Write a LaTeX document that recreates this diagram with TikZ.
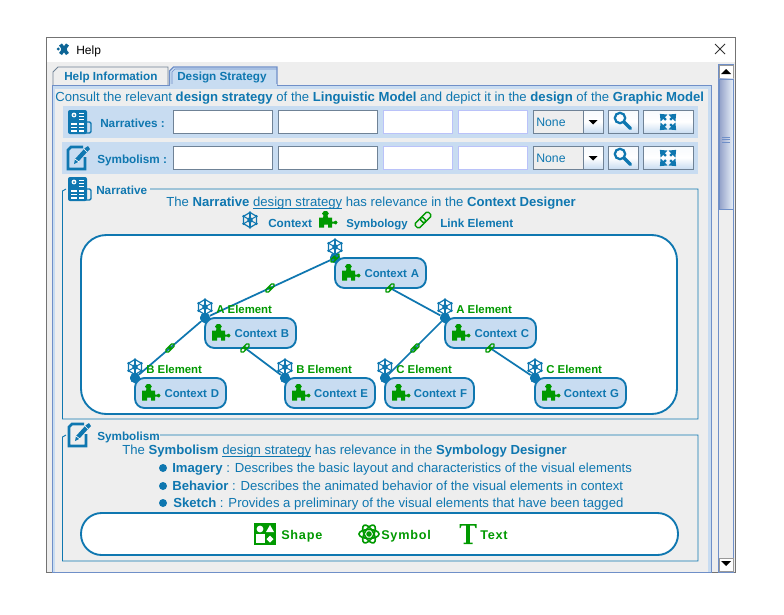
\documentclass[tikz,border=0pt]{standalone}
\usepackage{fontspec}
\setmainfont{Liberation Sans}
\usepackage{xcolor}
\usetikzlibrary{arrows.meta, positioning, shapes.geometric}
\definecolor{uiblue}{HTML}{0F77B0}
\definecolor{uigreen}{HTML}{009900}
\definecolor{uifill}{HTML}{C8DCF1}
\definecolor{uigray}{HTML}{EEEEEE}
\definecolor{uiedge}{HTML}{6F8FC8}
\definecolor{btnedge}{HTML}{6F8296}
\begin{document}
\begin{tikzpicture}[
  x=0.75pt, y=-0.75pt,
  font=\fontsize{9.85}{11}\selectfont,
  txt/.style   = {anchor=base west, inner sep=0pt, text=uiblue},
  lbl/.style   = {txt, font=\fontsize{8.8}{11}\selectfont\bfseries},
  etxt/.style  = {anchor=base west, inner sep=0pt, text=uigreen, font=\fontsize{8.55}{11}\selectfont\bfseries},
  stxt/.style  = {etxt, font=\fontsize{9.5}{11}\selectfont\bfseries\addfontfeature{LetterSpace=6}},
  field/.style = {draw=btnedge, fill=white, line width=0.6pt, minimum height=17.5pt, inner sep=0pt, outer sep=0pt, anchor=north west},
  lfield/.style= {draw=uifill!70!blue!60, fill=white, line width=0.6pt, minimum height=17.5pt, inner sep=0pt, outer sep=0pt, minimum width=51.75pt},
  btn/.style   = {draw=btnedge, line width=0.7pt, top color=white!85!uifill, bottom color=uifill, middle color=white,
                  minimum height=17.5pt, inner sep=0pt, outer sep=0pt},
  band/.style  = {fill=uifill, minimum height=24pt, inner sep=0pt, outer sep=0pt, anchor=north west},
  ctx/.style   = {draw=uiblue, line width=1.4pt, fill=uifill, rounded corners=7pt, anchor=north west,
                  minimum height=22.5pt, text width=57.75pt, align=right, inner xsep=5.25pt, inner ysep=0pt, outer sep=0pt,
                  text height=7pt, text depth=0pt, text=uiblue, font=\fontsize{8.55}{11}\selectfont\bfseries},
  dot/.style   = {circle, fill=uiblue, inner sep=0pt, minimum size=7.5pt, on grid},
  edge/.style  = {draw=uiblue, line width=1.3pt},
  round/.style = {draw=uiblue, line width=1.4pt, fill=white},
  frame/.style = {draw=uiblue, line width=0.7pt},
  hexicon/.pic = {
    \draw[uiblue, line width=0.9pt] (90:7.5) -- (30:7.5) -- (-30:7.5) -- (-90:7.5) -- (-150:7.5) -- (150:7.5) -- cycle;
    \foreach \a in {30,90,...,330} {
      \draw[uiblue, line width=0.8pt] (0,0) -- (\a:7.5);
      \fill[uiblue] (\a:7.5) circle (1.3);
    }
    \fill[uiblue] (0,0) circle (2.8);
  },
  puzzle/.pic = {
    \fill[uigreen] (-9,-2) -- (-5,-2) -- (-4.5,-4) -- (-6,-6) -- (-4,-8.5) -- (-1,-8.5) -- (0.8,-6) -- (-0.5,-4) -- (0,-2) --
      (4,-2) -- (4,2) -- (6,2) -- (8,1) -- (9.5,3) -- (8,5) -- (6,4) -- (4,4) -- (4,8) -- (0,8) -- (0,5) -- (-4,5) -- (-4,8) -- (-9,8) -- cycle;
  },
  linkicon/.pic = {
    \begin{scope}[rotate=45]
      \draw[uigreen, line width=1pt, rounded corners=1.2pt] (-5.5,-1.8) rectangle (1,1.8);
      \draw[uigreen, line width=1pt, rounded corners=1.2pt] (-1,-1.8) rectangle (5.5,1.8);
    \end{scope}
  },
  docicon/.pic = {
    \draw[uiblue, line width=1pt, rounded corners=1pt] (5,0) -- (11,0) -- (11,11) -- (5,11);
    \fill[uiblue, rounded corners=1.5pt] (-12,-12) rectangle (7,12);
    \fill[white] (-6,-7) circle (2.4);
    \fill[uiblue] (-6,-7) circle (1);
    \foreach \yy in {-9,-6,-3} { \draw[white, line width=0.7pt] (-1,\yy) -- (4,\yy); }
    \foreach \yy in {2,5.5,9} { \draw[white, line width=0.9pt] (-9,\yy) -- (-3,\yy); \draw[white, line width=0.9pt] (-1,\yy) -- (4,\yy); }
  },
  penicon/.pic = {
    \draw[uiblue, line width=2.1pt] (5,-11) -- (-7,-11) -- (-10,-8) -- (-10,11) -- (7,11) -- (7,-1);
    \fill[uiblue] (-4,6) -- (-3,1) -- (7,-10) -- (10,-12) -- (12,-9) -- (10,-7) -- (0,4) -- cycle;
    \draw[white, line width=0.5pt] (-3,1) -- (1,4);
    \draw[white, line width=0.5pt] (6,-9) -- (9,-6);
  },
  lensicon/.pic = {
    \draw[uiblue, line width=1.7pt] (-3,-4) circle (5.2);
    \draw[uiblue, line width=2.6pt, line cap=round] (1,0) -- (7.5,6.5);
  },
  growicon/.pic = {
    \foreach \a in {45,135,225,315} {
      \begin{scope}[rotate=\a]
        \fill[uiblue] (11.5,0) -- (5.5,-5) -- (5.5,5) -- cycle;
        \draw[uiblue, line width=1.8pt] (3,0) -- (7,0);
      \end{scope}
    }
  },
  shapeicon/.pic = {
    \fill[white] (-10.5,-11) rectangle (10.5,11);
    \draw[uigreen, line width=1pt] (-10,-10) rectangle (10,10);
    \fill[uigreen] (-10,-10) rectangle (0,0);
    \fill[uigreen] (0,-10) rectangle (10,0);
    \fill[uigreen] (0,0) rectangle (10,10);
    \fill[white] (-5,-5) circle (3.4);
    \fill[white] (5,-9) -- (9,-2) -- (1,-2) -- cycle;
    \fill[white] (5,1.5) -- (8.5,5) -- (5,8.5) -- (1.5,5) -- cycle;
  },
  atomicon/.pic = {
    \foreach \a in {0,60,120} {
      \draw[uigreen, line width=1.2pt, rotate=\a] (0,0) ellipse (10 and 4.5);
    }
    \fill[uigreen] (0,0) circle (2.8);
  },
  texticon/.pic = {
    \fill[uigreen] (-8.5,-10) -- (8.5,-10) -- (8.5,-6) -- (7.5,-6) -- (6.5,-8.5) -- (1.8,-8.5) -- (1.8,8.5) -- (4.5,8.5) -- (4.5,10)
      -- (-4.5,10) -- (-4.5,8.5) -- (-1.8,8.5) -- (-1.8,-8.5) -- (-6.5,-8.5) -- (-7.5,-6) -- (-8.5,-6) -- cycle;
  },
  appicon/.pic = {
    \draw[uiblue!85!black, line width=2.7pt] (-3.5,-4.5) -- (3.5,5) (3.5,-4.5) -- (-3.5,5);
    \fill[uiblue!85!black] (0,0) circle (3.2);
    \fill[uiblue!85!black] (-5.8,0) circle (1.6);
  }
]
\useasboundingbox (0,0) rectangle (784,614);
\fill[white] (0,0) rectangle (784,614);

% window
\draw[fill=uigray, draw=black!55, line width=0.7pt] (46.5,37.5) rectangle (735.5,572.5);
\fill[white] (47,38) rectangle (735,62);
\pic at (64,49) {appicon};
\node[anchor=base west, inner sep=0pt, text=black, font=\fontsize{9}{11}\selectfont] (title) at (76,54) {Help};
\draw[black!80, line width=0.7pt] (715,44) -- (725,54) (725,44) -- (715,54);

% scroll bar
\draw[uiedge, line width=0.6pt] (718,64) rectangle (733,572);
\node[draw=black!40, fill=white, inner sep=0pt, minimum width=11pt, minimum height=10pt, anchor=north west] (up) at (718.5,64.5) {};
\fill[black] (721,74) -- ++(5,-5) -- ++(5,5) -- cycle;
\node[draw=uiedge, left color=uifill!80!black!90!blue, right color=uifill!40, inner sep=0pt, minimum width=11pt, minimum height=98pt, anchor=north west] (thumb) at (718.5,78.5) {};
\draw[uiedge, line width=0.5pt] (722,137) -- (730,137) (722,139.5) -- (730,139.5) (722,142) -- (730,142);
\node[draw=black!40, fill=white, inner sep=0pt, minimum width=11pt, minimum height=10pt, anchor=north west] (down) at (718.5,557.5) {};
\fill[black] (721,561) -- (731,561) -- (726,566) -- cycle;

% tabs
\draw[draw=btnedge, fill=uigray, line width=0.6pt] (53,85) -- (53,72) -- (58,67) -- (168,67) -- (168,85);
\draw[draw=uiedge, fill=uifill, line width=1pt] (169.5,85) -- (169.5,71) -- (173.5,67) -- (277,67) -- (277,85);
\draw[draw=uiedge, line width=0.5pt] (172,85) -- (172,72) -- (175,69) -- (277,69);
\draw[uiedge, line width=0.7pt, fill=uifill] (52,85) rectangle (711,572);
\fill[uifill] (170,84) rectangle (276.5,86);
\fill[uigray] (55,89) rectangle (708,571.5);
\node[lbl] (tabhelp) at (64,80) {Help Information};
\node[lbl] (tabdesign) at (177,80) {Design Strategy};
\node[txt] (intro) at (55,101) {Consult the relevant \textbf{design strategy} of the \textbf{Linguistic Model} and depict it in the \textbf{design} of the \textbf{Graphic Model}};

% narratives row
\node[band, minimum width=476.25pt] (nband) at (63,106) {};
\pic at (80,122) {docicon};
\node[lbl] (nlabel) at (100,127) {Narratives :};
\node[field, minimum width=74.25pt] (nf1) at (173,110) {};
\node[field, minimum width=74.25pt, right=4.5pt of nf1] (nf2) {};
\node[lfield, right=4.5pt of nf2] (nf3) {};
\node[lfield, right=4.5pt of nf3] (nf4) {};
\node[field, draw=btnedge, fill=uigray, minimum width=37.5pt, right=4.5pt of nf4] (ncombo) {};
\node[txt, font=\fontsize{9.2}{11}\selectfont] (nnone) at (536,126) {None};
\node[btn, minimum width=15pt, right=0pt of ncombo] (narrow) {};
\fill[black] (588.5,120) -- (597.5,120) -- (593,124.5) -- cycle;
\node[btn, minimum width=22.5pt, right=3.75pt of narrow] (nlens) {};
\pic at (623,122) {lensicon};
\node[btn, minimum width=37.5pt, right=3.75pt of nlens] (ngrow) {};
\pic at (668,122) {growicon};

% symbolism row
\node[band, minimum width=477pt] (sband) at (62,142) {};
\pic at (78,158) {penicon};
\node[lbl] (slabel) at (97,163) {Symbolism :};
\node[field, minimum width=74.25pt] (sf1) at (173,146) {};
\node[field, minimum width=74.25pt, right=4.5pt of sf1] (sf2) {};
\node[lfield, right=4.5pt of sf2] (sf3) {};
\node[lfield, right=4.5pt of sf3] (sf4) {};
\node[field, draw=btnedge, fill=uigray, minimum width=37.5pt, right=4.5pt of sf4] (scombo) {};
\node[txt, font=\fontsize{9.2}{11}\selectfont] (snone) at (536,162) {None};
\node[btn, minimum width=15pt, right=0pt of scombo] (sarrow) {};
\fill[black] (588.5,156) -- (597.5,156) -- (593,160.5) -- cycle;
\node[btn, minimum width=22.5pt, right=3.75pt of sarrow] (slens) {};
\pic at (623,158) {lensicon};
\node[btn, minimum width=37.5pt, right=3.75pt of slens] (sgrow) {};
\pic at (668,158) {growicon};

% narrative group
\draw[frame] (66,189) -- (62.5,191) -- (62.5,419) -- (698,419) -- (698,189) -- (150,189);
\pic at (80,189) {docicon};
\node[lbl] (ntitle) at (96,194) {Narrative};
\node[txt] (nline) at (166,206) {The \textbf{Narrative} \underline{\smash{design strategy}} has relevance in the \textbf{Context Designer}};
\pic at (250,220) {hexicon};
\node[lbl] (lgctx) at (268,227) {Context};
\pic at (328,219.5) {puzzle};
\node[lbl, font=\fontsize{8.55}{11}\selectfont\bfseries] (lgsym) at (346,227) {Symbology};
\pic[scale=1.7] at (423,220) {linkicon};
\node[lbl] (lglink) at (440,227) {Link Element};
\draw[round, rounded corners=19pt] (81,235) rectangle (677,414);

% tree
\node[dot] (da) at (335,258) {};
\node[dot, below left=45pt and 97.5pt of da] (db) {};
\node[dot, below right=45pt and 82.5pt of da] (dc) {};
\node[dot, below left=45pt and 52.5pt of db] (dd) {};
\node[dot, below right=45pt and 60pt of db] (de) {};
\node[dot, below left=45pt and 45pt of dc] (df) {};
\node[dot, below right=45pt and 67.5pt of dc] (dg) {};
\node[ctx] (ctxa) at (da) {Context A};
\node[ctx] (ctxb) at (db) {Context B};
\node[ctx] (ctxc) at (dc) {Context C};
\node[ctx] (ctxd) at (dd) {Context D};
\node[ctx, text width=57pt] (ctxe) at (de) {Context E};
\node[ctx, text width=56.25pt] (ctxf) at (df) {Context F};
\node[ctx] (ctxg) at (dg) {Context G};
\node[dot] at (da) {};
\node[dot] at (db) {};
\node[dot] at (dc) {};
\node[dot] at (dd) {};
\node[dot] at (de) {};
\node[dot] at (df) {};
\node[dot] at (dg) {};
\coordinate (lka) at (390,288);
\coordinate (lkb) at (245,348);
\coordinate (lkc) at (490,348);

\draw[edge] (da) -- pic {linkicon} (db);
\draw[edge] (db) -- pic {linkicon} (dd);
\draw[edge] (dc) -- pic {linkicon} (df);
\draw[edge] (lka) -- (dc);
\draw[edge] (lkb) -- (de);
\draw[edge] (lkc) -- (dg);
\pic at (da) {linkicon};
\pic at (lka) {linkicon};
\pic at (lkb) {linkicon};
\pic at (lkc) {linkicon};

\pic at (335,247) {hexicon};
\pic at (205,307) {hexicon};
\pic at (445,307) {hexicon};
\pic at (135,367) {hexicon};
\pic at (285,367) {hexicon};
\pic at (385,367) {hexicon};
\pic at (535,367) {hexicon};
\pic at (351,272.5) {puzzle};
\pic at (221,332.5) {puzzle};
\pic at (461,332.5) {puzzle};
\pic at (151,392.5) {puzzle};
\pic at (301,392.5) {puzzle};
\pic at (401,392.5) {puzzle};
\pic at (551,392.5) {puzzle};
\node[etxt] (elb) at (216,313) {A Element};
\node[etxt] (elc) at (456,313) {A Element};
\node[etxt] (eld) at (146,373) {B Element};
\node[etxt] (ele) at (296,373) {B Element};
\node[etxt] (elf) at (396,373) {C Element};
\node[etxt] (elg) at (546,373) {C Element};

% symbolism group
\draw[frame] (66,435) -- (62.5,437) -- (62.5,561) -- (698,561) -- (698,435) -- (160,435);
\pic at (79,435) {penicon};
\node[lbl] (stitle) at (97,440) {Symbolism};
\node[txt] (sline) at (122,454) {The \textbf{Symbolism} \underline{\smash{design strategy}} has relevance in the \textbf{Symbology Designer}};
\node[dot, minimum size=6pt] (bimg) at (163,468) {};
\node[txt] (limg) at (172,472) {\textbf{Imagery} : Describes the basic layout and characteristics of the visual elements};
\node[dot, minimum size=6pt] (bbeh) at (163,486) {};
\node[txt] (lbeh) at (172,490) {\textbf{Behavior} : Describes the animated behavior of the visual elements in context};
\node[dot, minimum size=6pt] (bske) at (163,503) {};
\node[txt] (lske) at (173,507) {\textbf{Sketch} : Provides a preliminary of the visual elements that have been tagged};
\draw[round, rounded corners=15.5pt] (81,513) rectangle (678,555);
\pic at (265,534) {shapeicon};
\node[stxt] (shp) at (281,539) {Shape};
\pic at (369,534) {atomicon};
\node[stxt] (sym) at (381,539) {Symbol};
\pic at (468,534) {texticon};
\node[stxt] (tex) at (480,539) {Text};
\end{tikzpicture}
\end{document}
